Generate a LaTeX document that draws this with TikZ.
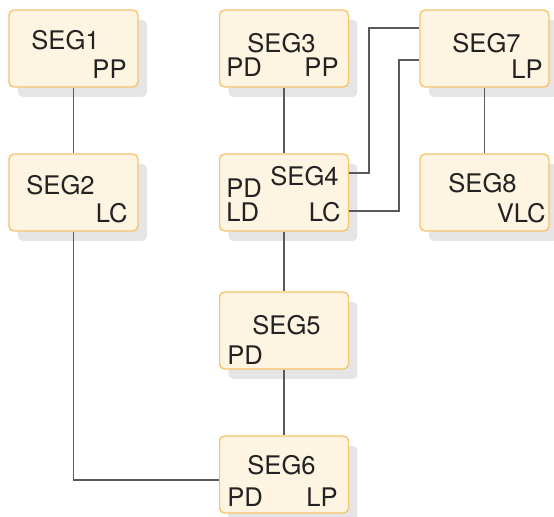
\documentclass[tikz,border=0pt]{standalone}
\usepackage{fontspec}
\setmainfont{TeX Gyre Heros}
\usetikzlibrary{shadows}

\definecolor{segfill}{HTML}{FEF4E2}
\definecolor{segdraw}{HTML}{F6C46E}
\definecolor{segline}{HTML}{5A5A5A}
\definecolor{segtext}{HTML}{222222}

\tikzset{
  segbox/.style={draw=segdraw, fill=segfill, line width=0.7pt, rounded corners=2.5pt,
    minimum width=64.5pt, minimum height=38.5pt, inner sep=0pt,
    drop shadow={shadow xshift=4.5pt, shadow yshift=-5pt, fill=black!10, opacity=1}},
  seglabel/.style={inner sep=0pt, text=segtext, font=\fontsize{12.8}{14}\selectfont},
  segconn/.style={draw=segline, line width=0.9pt}
}

\begin{document}
\begin{tikzpicture}[x=0.5pt, y=-0.5pt]

\useasboundingbox (0,0) rectangle (554,517);

% Segment boxes
\node[segbox] (seg1) at (73.5,48.5) {};
\node[segbox] (seg2) at (73.5,192.5) {};
\node[segbox] (seg3) at (284,48.5) {};
\node[segbox] (seg4) at (284,192.5) {};
\node[segbox] (seg5) at (284,330.5) {};
\node[segbox] (seg6) at (284,474.5) {};
\node[segbox] (seg7) at (484.5,48.5) {};
\node[segbox] (seg8) at (484.5,192.5) {};

% SEG1
\node[seglabel, anchor=base west] (seg1-name) at (31,50) {SEG1};
\node[seglabel, anchor=base east] (seg1-pp) at (127,79) {PP};

% SEG2
\node[seglabel, anchor=base west] (seg2-name) at (26,195) {SEG2};
\node[seglabel, anchor=base east] (seg2-lc) at (128,223) {LC};

% SEG3
\node[seglabel, anchor=base west] (seg3-name) at (247,53) {SEG3};
\node[seglabel, anchor=base west] (seg3-pd) at (226,77) {PD};
\node[seglabel, anchor=base east] (seg3-pp) at (339,77) {PP};

% SEG4
\node[seglabel, anchor=base west] (seg4-name) at (270,186) {SEG4};
\node[seglabel, anchor=base west] (seg4-pd) at (226,198) {PD};
\node[seglabel, anchor=base west] (seg4-ld) at (226,222) {LD};
\node[seglabel, anchor=base east] (seg4-lc) at (341,222) {LC};

% SEG5
\node[seglabel, anchor=base west] (seg5-name) at (252,335) {SEG5};
\node[seglabel, anchor=base west] (seg5-pd) at (227,365) {PD};

% SEG6
\node[seglabel, anchor=base west] (seg6-name) at (247,475) {SEG6};
\node[seglabel, anchor=base west] (seg6-pd) at (227,507) {PD};
\node[seglabel, anchor=base east] (seg6-lp) at (338,507) {LP};

% SEG7
\node[seglabel, anchor=base west] (seg7-name) at (452,53) {SEG7};
\node[seglabel, anchor=base east] (seg7-lp) at (543,79) {LP};

% SEG8
\node[seglabel, anchor=base west] (seg8-name) at (448,193) {SEG8};
\node[seglabel, anchor=base east] (seg8-vlc) at (546,223) {VLC};

% Connectors
\draw[segconn] (seg1.south) -- (seg2.north);
\draw[segconn] (seg3.south) -- (seg4.north);
\draw[segconn] (seg4.south) -- (seg5.north);
\draw[segconn] (seg5.south) -- (seg6.north);
\draw[segconn] (seg7.south) -- (seg8.north);
\draw[segconn] (seg2.south) |- ([yshift=-2.75pt]seg6.west);
\draw[segconn] ([yshift=9.75pt]seg4.east) -- ++(19.5,0) |- ([yshift=10.25pt]seg7.west);
\draw[segconn] ([yshift=-9.25pt]seg4.east) -- ++(49.5,0) |- ([yshift=-5.75pt]seg7.west);

\end{tikzpicture}
\end{document}
